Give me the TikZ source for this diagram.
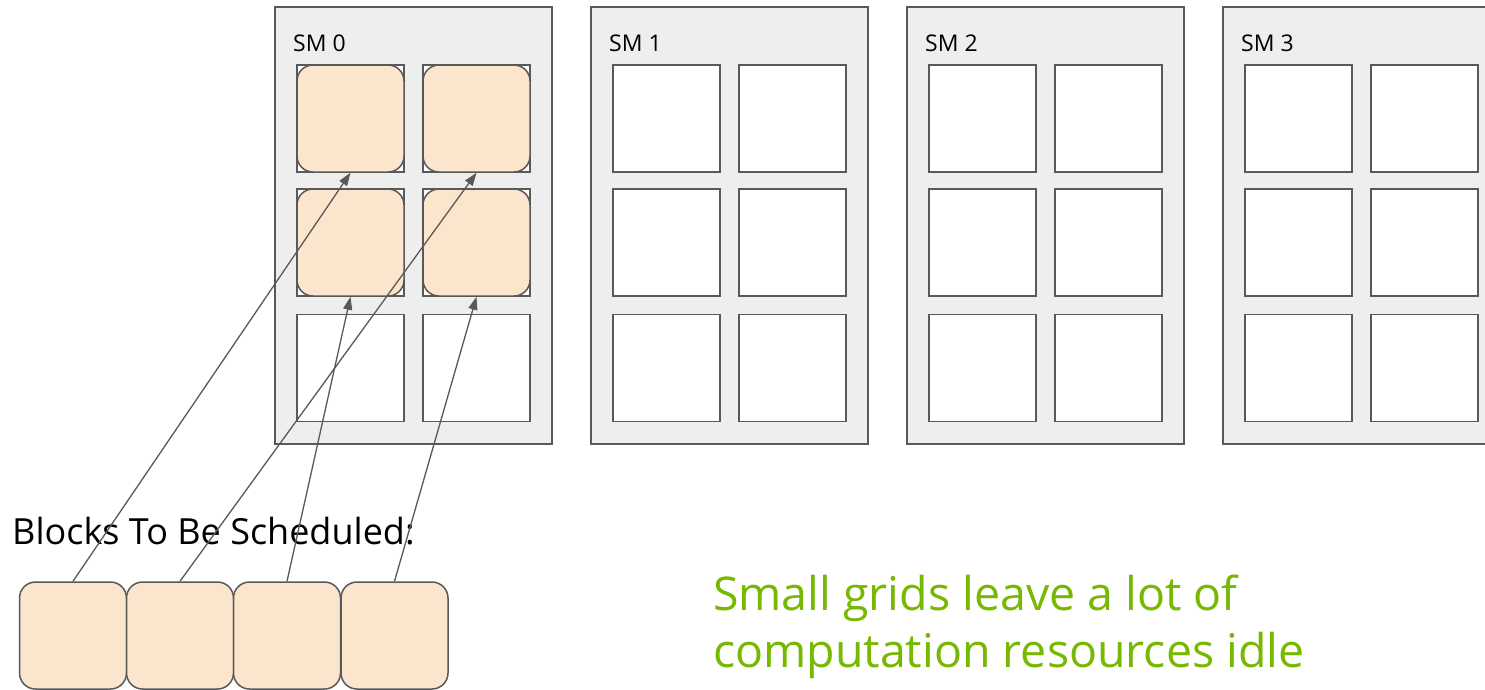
\documentclass[tikz,border=0pt]{standalone}
\usepackage{fontspec}
\setmainfont{Open Sans}
\usetikzlibrary{arrows.meta}
\definecolor{edgegray}{HTML}{595959}
\definecolor{smfill}{HTML}{EEEEEE}
\definecolor{blockfill}{HTML}{FCE5CD}
\definecolor{nvgreen}{HTML}{76B900}
\tikzset{
  smbox/.style={draw=edgegray, fill=smfill, line width=1.5pt, minimum width=277pt, minimum height=437pt, inner sep=0pt},
  slot/.style={draw=edgegray, fill=white, line width=1.5pt, minimum width=107pt, minimum height=107pt, inner sep=0pt},
  blk/.style={draw=edgegray, fill=blockfill, line width=1.5pt, rounded corners=16pt, minimum width=107pt, minimum height=107pt, inner sep=0pt},
  smlabel/.style={anchor=base west, font=\fontsize{23}{27}\selectfont, inner sep=0pt},
  sched/.style={-{Triangle[length=13pt,width=9pt]}, draw=edgegray, line width=1.3pt}
}
\begin{document}
\begin{tikzpicture}[x=1pt, y=-1pt]
\useasboundingbox (0,0) rectangle (1485,689);
\clip (0,0) rectangle (1485,689);
\fill[white] (0,0) rectangle (1485,689);
\foreach \i/\sx in {0/275,1/591,2/907,3/1223}{
  \node[smbox] (sm\i) at (\sx+138.5,225.5) {};
  \node[smlabel] (smlab\i) at (\sx+18,51) {SM \i};
  \node[slot] (s\i-1-1) at (\sx+75.5,118.5) {};
  \node[slot] (s\i-1-2) at (\sx+201.5,118.5) {};
  \node[slot] (s\i-2-1) at (\sx+75.5,242.5) {};
  \node[slot] (s\i-2-2) at (\sx+201.5,242.5) {};
  \node[slot] (s\i-3-1) at (\sx+75.5,368) {};
  \node[slot] (s\i-3-2) at (\sx+201.5,368) {};
}
% scheduled blocks in SM 0
\node[blk] (r11) at (s0-1-1) {};
\node[blk] (r12) at (s0-1-2) {};
\node[blk] (r21) at (s0-2-1) {};
\node[blk] (r22) at (s0-2-2) {};
% label
\node[anchor=base west, inner sep=0pt, font=\fontsize{36}{42}\selectfont] (title) at (12,544) {Blocks To Be Scheduled:};
% blocks to be scheduled
\node[blk] (b1) at (73,635.5) {};
\node[blk] (b2) at (180,635.5) {};
\node[blk] (b3) at (287,635.5) {};
\node[blk] (b4) at (394.5,635.5) {};
% arrows
\draw[sched] (b1.north) -- (r11.south);
\draw[sched] (b2.north) -- (r12.south);
\draw[sched] (b3.north) -- (r21.south);
\draw[sched] (b4.north) -- (r22.south);
% note
\node[anchor=base west, inner sep=0pt, align=left, text=nvgreen, font=\fontsize{46.5}{57}\selectfont] (note) at (713,667) {Small grids leave a lot of\\computation resources idle};
\end{tikzpicture}
\end{document}
